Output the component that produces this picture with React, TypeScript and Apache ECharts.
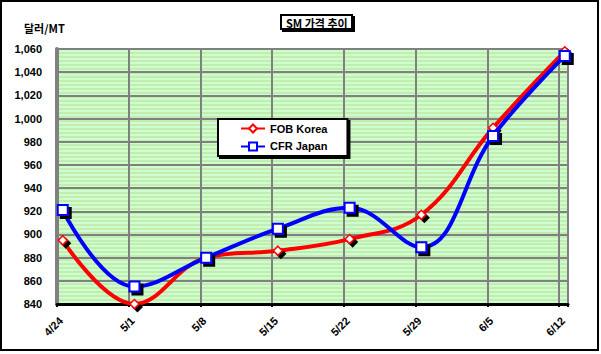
import React, { useEffect, useRef } from "react";
import * as echarts from "echarts";

const categories = ["4/24", "5/1", "5/8", "5/15", "5/22", "5/29", "6/5", "6/12"];
const fobKorea = [895, 840, 880, 886, 896, 917, 992, 1058];
const cfrJapan = [921, 855, 880, 905, 923, 889, 985, 1054];
const yTicks = { min: 840, max: 1060, step: 20 };

const FONT = "'Liberation Sans', Arial, 'Noto Sans CJK KR', sans-serif";
const KFONT = "'Noto Sans CJK KR', 'Liberation Sans', sans-serif";
const POINT_SHIFT = 0.08;

export default function App() {
  const ref = useRef<HTMLDivElement>(null);
  useEffect(() => {
    document.body.style.margin = "0";
    const chart = echarts.init(ref.current!, null, { renderer: "svg" });
    const toPts = (arr: number[]) => arr.map((v, i) => [i + POINT_SHIFT, v]);
    chart.setOption({
      animation: false,
      backgroundColor: "#ffffff",
      title: {
        text: "SM 가격 추이",
        left: 281,
        top: 15,
        padding: [2, 5, 1, 5],
        borderColor: "#000",
        borderWidth: 2,
        backgroundColor: "#fff",
        shadowColor: "#000",
        shadowOffsetX: 2,
        shadowOffsetY: 2,
        textStyle: { fontFamily: KFONT, fontSize: 11, fontWeight: "bold", color: "#000" },
      },
      legend: {
        orient: "vertical",
        left: 218,
        top: 119,
        padding: [4, 20, 4, 22],
        itemGap: 7,
        itemWidth: 24,
        itemHeight: 10,
        backgroundColor: "#fff",
        borderColor: "#000",
        borderWidth: 2,
        shadowColor: "#000",
        shadowOffsetX: 2,
        shadowOffsetY: 2,
        textStyle: { fontFamily: FONT, fontSize: 11, fontWeight: "bold", color: "#000" },
        data: ["FOB Korea", "CFR Japan"],
      },
      grid: {
        left: 57,
        right: 33,
        top: 49,
        bottom: 50,
        show: true,
        backgroundColor: "#CCFFCC",
        borderWidth: 0,
      },
      xAxis: {
        type: "value",
        min: 0,
        max: 7.125,
        interval: 1,
        z: 2,
        axisLine: { show: true, lineStyle: { color: "#000", width: 3 } },
        axisTick: { show: true, length: 3, lineStyle: { color: "#000", width: 2 } },
        axisLabel: {
          rotate: 45,
          margin: 11,
          verticalAlign: "top",
          fontFamily: FONT,
          fontSize: 11,
          fontWeight: "bold",
          color: "#000",
          formatter: (v: number) => (Number.isInteger(v) && categories[v] ? categories[v] : ""),
        },
        splitLine: { show: true, lineStyle: { color: "#808080", width: 2 } },
      },
      yAxis: [
        {
          type: "value",
          min: yTicks.min,
          max: yTicks.max,
          interval: yTicks.step,
          z: 2,
          axisLine: { show: true, lineStyle: { color: "#808080", width: 4 } },
          axisTick: { show: false },
          axisLabel: {
            margin: 15,
            fontFamily: FONT,
            fontSize: 11,
            fontWeight: "bold",
            color: "#000",
            formatter: (v: number) => v.toLocaleString("en-US"),
          },
          splitLine: { show: true, lineStyle: { color: "#808080", width: 2 } },
        },
        {
          type: "value",
          min: 0,
          max: 64,
          interval: 1,
          z: 1,
          show: true,
          axisLine: { show: false },
          axisTick: { show: false },
          axisLabel: { show: false },
          splitLine: { show: true, lineStyle: { color: "#BFE6A8", width: 1.6 } },
        },
      ],
      graphic: [
        {
          type: "rect",
          shape: { x: 1, y: 1, width: 597, height: 349 },
          style: { fill: "none", stroke: "#000", lineWidth: 2 },
          silent: true,
        },
        {
          type: "text",
          left: 24,
          top: 22,
          style: { text: "달러/MT", font: `bold 11px ${KFONT}`, fill: "#000" },
        },
      ],
      series: [
        {
          name: "FOB Korea",
          type: "line",
          z: 3,
          smooth: 0.4,
          data: toPts(fobKorea),
          symbol: "diamond",
          symbolSize: 9,
          lineStyle: { color: "#FF0000", width: 4 },
          itemStyle: {
            color: "#fff",
            borderColor: "#FF0000",
            borderWidth: 1.5,
            shadowColor: "#000",
            shadowOffsetX: 3,
            shadowOffsetY: 3,
          },
        },
        {
          name: "CFR Japan",
          type: "line",
          z: 4,
          smooth: 0.4,
          data: toPts(cfrJapan),
          symbol: "rect",
          symbolSize: 10,
          lineStyle: { color: "#0000FF", width: 4 },
          itemStyle: {
            color: "#fff",
            borderColor: "#0000FF",
            borderWidth: 2,
            shadowColor: "#000",
            shadowOffsetX: 3,
            shadowOffsetY: 3,
          },
        },
      ],
    });
    return () => chart.dispose();
  }, []);
  return <div ref={ref} style={{ width: 601, height: 354 }} />;
}
